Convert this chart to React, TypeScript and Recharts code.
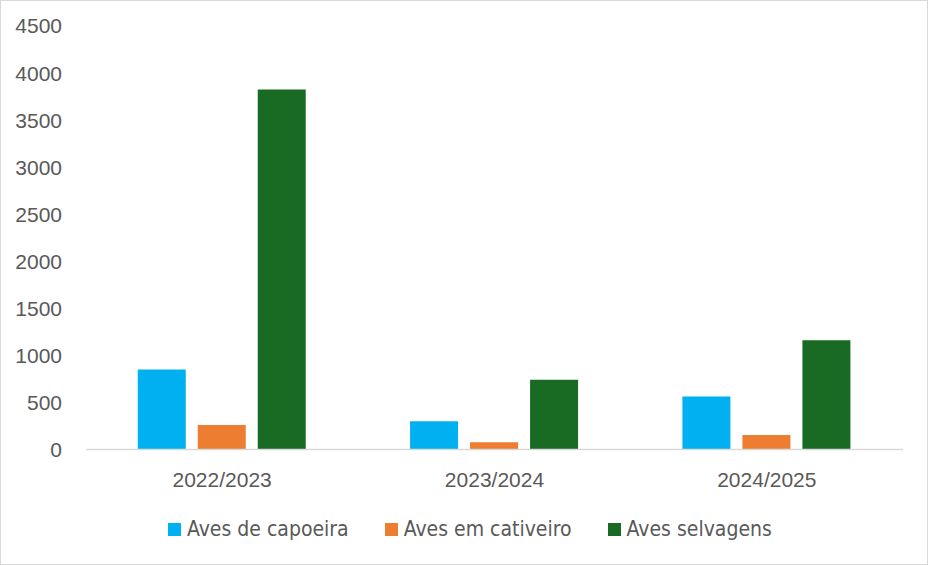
import React from "react";
import { BarChart, Bar, XAxis, YAxis, Legend } from "recharts";

const categories = ["2022/2023", "2023/2024", "2024/2025"];
const capoeira = [851, 299, 563];
const cativeiro = [260, 76, 154];
const selvagens = [3826, 741, 1162];
const yTicks = [0, 500, 1000, 1500, 2000, 2500, 3000, 3500, 4000, 4500];

const seriesNames = ["Aves de capoeira", "Aves em cativeiro", "Aves selvagens"];
const colors = ["#00B0F0", "#ED7D31", "#196B24"];

const data = categories.map((c, i) => ({
  name: c,
  capoeira: capoeira[i],
  cativeiro: cativeiro[i],
  selvagens: selvagens[i],
}));

const LegendContent = () => (
  <div
    style={{
      width: 928,
      height: 30,
      display: "flex",
      alignItems: "center",
      paddingLeft: 168,
      boxSizing: "border-box",
      fontFamily: '"Liberation Sans Narrow", "Arial Narrow", "DejaVu Sans Condensed", sans-serif',
      fontSize: 21,
      color: "#595959",
    }}
  >
    {seriesNames.map((n, i) => (
      <div key={n} style={{ display: "flex", alignItems: "center", marginRight: 36 }}>
        <span style={{ width: 13, height: 13, background: colors[i], display: "inline-block", marginRight: 6 }} />
        <span>{n}</span>
      </div>
    ))}
  </div>
);

export default function App() {
  return (
    <div
      style={{
        position: "absolute",
        left: 0,
        top: 0,
        width: 928,
        height: 565,
        background: "#fff",
      }}
    >
      <BarChart
        width={928}
        height={565}
        data={data}
        margin={{ top: 26, right: 25, left: 0, bottom: 21 }}
        barCategoryGap="19%"
        barGap={12}
      >
        <XAxis
          dataKey="name"
          height={64.5}
          axisLine={{ stroke: "#D9D9D9", strokeWidth: 1.5 }}
          tickLine={false}
          tickMargin={17}
          tick={{ fill: "#595959", fontSize: 21, fontFamily: '"Liberation Sans", Arial, sans-serif' }}
        />
        <YAxis
          width={86}
          domain={[0, 4500]}
          ticks={yTicks}
          axisLine={false}
          tickLine={false}
          tickMargin={18}
          interval={0}
          tick={{ fill: "#595959", fontSize: 21, fontFamily: '"Liberation Sans", Arial, sans-serif' }}
        />
        <Legend
          verticalAlign="bottom"
          content={<LegendContent />}
          wrapperStyle={{ left: 0, width: 928, height: 30 }}
        />
        <Bar dataKey="capoeira" name={seriesNames[0]} fill={colors[0]} isAnimationActive={false} />
        <Bar dataKey="cativeiro" name={seriesNames[1]} fill={colors[1]} isAnimationActive={false} />
        <Bar dataKey="selvagens" name={seriesNames[2]} fill={colors[2]} isAnimationActive={false} />
      </BarChart>
      <div
        style={{
          position: "absolute",
          left: 0,
          top: 0,
          width: 928,
          height: 565,
          border: "1px solid #D9D9D9",
          boxSizing: "border-box",
          pointerEvents: "none",
        }}
      />
    </div>
  );
}
